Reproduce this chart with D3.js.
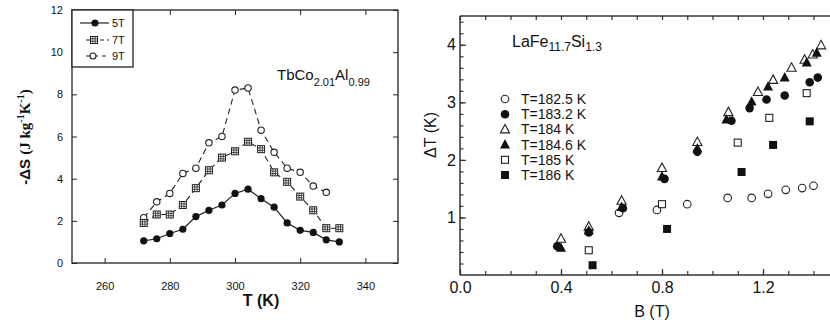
<!DOCTYPE html>
<html><head><meta charset="utf-8">
<script src="https://cdn.jsdelivr.net/npm/d3@7"></script>
<style>body{margin:0;background:#fff}svg{display:block}text{font-family:Arial,"Liberation Sans",sans-serif;fill:#111}</style>
</head><body>
<svg id="c" width="830" height="320"></svg>
<script>
// ---------- Left panel data ----------
const tempK = [272,276,280,284,288,292,296,300,304,308,312,316,320,324,328,332];
const dS5T = [1.05,1.15,1.4,1.6,2.2,2.5,2.75,3.3,3.5,3.05,2.65,1.9,1.55,1.45,1.1,1.0];
const dS7T = [1.9,2.3,2.3,2.75,3.55,4.4,5.0,5.3,5.75,5.4,4.3,3.85,3.15,2.5,1.65,1.65];
const dS9T = [2.15,2.9,3.3,4.25,4.5,5.7,6.0,8.2,8.3,6.3,5.25,4.5,4.3,3.65,3.35];
const leftNames = ["5T","7T","9T"];
const leftXTicks = [260,280,300,320,340];
const leftYTicks = [0,2,4,6,8,10,12];

// ---------- Right panel data ----------
const rightNames = ["T=182.5 K","T=183.2 K","T=184 K","T=184.6 K","T=185 K","T=186 K"];
const B1825 = [0.63,0.78,0.90,1.06,1.155,1.22,1.29,1.355,1.40];
const dT1825 = [1.08,1.13,1.23,1.34,1.34,1.41,1.48,1.51,1.55];
const B1832 = [0.385,0.51,0.645,0.81,0.94,1.075,1.147,1.214,1.286,1.385,1.417];
const dT1832 = [0.50,0.74,1.16,1.67,2.14,2.68,2.90,3.05,3.12,3.35,3.43];
const B184 = [0.40,0.51,0.64,0.80,0.94,1.063,1.18,1.24,1.313,1.365,1.397,1.43];
const dT184 = [0.63,0.84,1.29,1.86,2.31,2.83,3.18,3.39,3.60,3.74,3.83,3.99];
const B1846 = [0.40,0.51,0.64,0.80,0.94,1.055,1.155,1.22,1.286,1.373,1.413];
const dT1846 = [0.47,0.77,1.18,1.71,2.20,2.70,3.01,3.27,3.43,3.69,3.86];
const B185 = [0.51,0.80,1.10,1.225,1.373];
const dT185 = [0.43,1.23,2.30,2.73,3.16];
const B186 = [0.525,0.82,1.115,1.24,1.385];
const dT186 = [0.17,0.80,1.79,2.26,2.67];
const rightXLabels = [0.0,0.4,0.8,1.2];
const rightXMinor = [0,0.1,0.2,0.3,0.4,0.5,0.6,0.7,0.8,0.9,1.0,1.1,1.2,1.3,1.4,1.5];
const rightYLabels = [1,2,3,4];
const rightYMinor = [0.2,0.4,0.6,0.8,1,1.2,1.4,1.6,1.8,2,2.2,2.4,2.6,2.8,3,3.2,3.4,3.6,3.8,4,4.2,4.4];

const svg = d3.select("#c");

// ================= LEFT PANEL =================
const lx = d3.scaleLinear([250,350],[72,398]);
const ly = d3.scaleLinear([0,12],[263,10]);
const L = svg.append("g");
L.append("rect").attr("x",lx(250)).attr("y",ly(12)).attr("width",lx(350)-lx(250)).attr("height",ly(0)-ly(12))
  .attr("fill","none").attr("stroke","#222").attr("stroke-width",1.3);

const lxa = L.append("g").attr("transform",`translate(0,${ly(0)})`)
  .call(d3.axisBottom(lx).tickValues(leftXTicks).tickSize(-5).tickPadding(19).tickFormat(d3.format("d")));
const lxt = L.append("g").attr("transform",`translate(0,${ly(12)})`)
  .call(d3.axisTop(lx).tickValues(leftXTicks).tickSize(-5).tickFormat(""));
const lya = L.append("g").attr("transform",`translate(${lx(250)},0)`)
  .call(d3.axisLeft(ly).tickValues(leftYTicks).tickSize(-5).tickPadding(9).tickFormat(d3.format("d")));
const lyr = L.append("g").attr("transform",`translate(${lx(350)},0)`)
  .call(d3.axisRight(ly).tickValues(leftYTicks).tickSize(-5).tickFormat(""));
[lxa,lxt,lya,lyr].forEach(g=>{g.select(".domain").remove();g.selectAll("line").attr("stroke","#222");
  g.selectAll("text").attr("font-size",11).attr("fill","#222");});

const line = d3.line().x(d=>lx(d[0])).y(d=>ly(d[1]));
const s5 = tempK.map((t,i)=>[t,dS5T[i]]);
const s7 = tempK.map((t,i)=>[t,dS7T[i]]);
const s9 = dS9T.map((v,i)=>[tempK[i],v]);
L.append("path").attr("d",line(s5)).attr("fill","none").attr("stroke","#222").attr("stroke-width",1.2);
L.append("path").attr("d",line(s7)).attr("fill","none").attr("stroke","#222").attr("stroke-width",1.1).attr("stroke-dasharray","6,4");
L.append("path").attr("d",line(s9)).attr("fill","none").attr("stroke","#222").attr("stroke-width",1.1).attr("stroke-dasharray","6,4");

function gridSquare(g,x,y){
  const h=3.5;
  g.append("rect").attr("x",x-h).attr("y",y-h).attr("width",2*h).attr("height",2*h).attr("fill","#fff").attr("stroke","#222").attr("stroke-width",1);
  [-1.2,1.2].forEach(o=>{
    g.append("line").attr("x1",x+o).attr("x2",x+o).attr("y1",y-h).attr("y2",y+h).attr("stroke","#222").attr("stroke-width",0.8);
    g.append("line").attr("y1",y+o).attr("y2",y+o).attr("x1",x-h).attr("x2",x+h).attr("stroke","#222").attr("stroke-width",0.8);
  });
}
s9.forEach(d=>L.append("circle").attr("cx",lx(d[0])).attr("cy",ly(d[1])).attr("r",3.2).attr("fill","#fff").attr("stroke","#222").attr("stroke-width",1.1));
s7.forEach(d=>gridSquare(L,lx(d[0]),ly(d[1])));
s5.forEach(d=>L.append("circle").attr("cx",lx(d[0])).attr("cy",ly(d[1])).attr("r",3.6).attr("fill","#111"));

// legend
L.append("rect").attr("x",72).attr("y",10).attr("width",61).attr("height",57).attr("fill","#fff").attr("stroke","#222").attr("stroke-width",1.3);
const legY=[23,40,56];
L.append("line").attr("x1",80).attr("x2",109).attr("y1",legY[0]).attr("y2",legY[0]).attr("stroke","#222").attr("stroke-width",1.2);
L.append("circle").attr("cx",95).attr("cy",legY[0]).attr("r",3.6).attr("fill","#111");
L.append("line").attr("x1",86).attr("x2",109).attr("y1",legY[1]).attr("y2",legY[1]).attr("stroke","#222").attr("stroke-width",1.1).attr("stroke-dasharray","4,3");
gridSquare(L,94,legY[1]);
L.append("line").attr("x1",86).attr("x2",109).attr("y1",legY[2]).attr("y2",legY[2]).attr("stroke","#222").attr("stroke-width",1.1).attr("stroke-dasharray","4,4");
L.append("circle").attr("cx",93).attr("cy",legY[2]).attr("r",3).attr("fill","#fff").attr("stroke","#222").attr("stroke-width",1.1);
leftNames.forEach((n,i)=>L.append("text").attr("x",112).attr("y",legY[i]+4).attr("font-size",11).text(n));

// title
const lt = L.append("text").attr("x",277).attr("y",80).attr("font-size",15);
lt.append("tspan").text("TbCo");
lt.append("tspan").attr("font-size",11).attr("dy",6).text("2.01");
lt.append("tspan").attr("dy",-6).text("Al");
lt.append("tspan").attr("font-size",11).attr("dy",6).text("0.99");

// axis labels
L.append("text").attr("x",261).attr("y",306).attr("text-anchor","middle").attr("font-size",16).attr("font-weight","bold").text("T (K)");
const yl = L.append("text").attr("transform","translate(30,137) rotate(-90)").attr("text-anchor","middle").attr("font-size",15).attr("font-weight","bold");
yl.append("tspan").text("-ΔS ");
yl.append("tspan").attr("font-family","'Liberation Serif','DejaVu Serif',serif").text("(J kg");
yl.append("tspan").attr("font-family","'Liberation Serif',serif").attr("font-size",10).attr("dy",-6).text("-1");
yl.append("tspan").attr("font-family","'Liberation Serif',serif").attr("dy",6).text("K");
yl.append("tspan").attr("font-family","'Liberation Serif',serif").attr("font-size",10).attr("dy",-6).text("-1");
yl.append("tspan").attr("font-family","'Liberation Serif',serif").attr("dy",6).text(")");

// ================= RIGHT PANEL =================
const rx = d3.scaleLinear([0,1.2],[460,763]);
const ry = d3.scaleLinear([0,4.5],[275,16]);
const R = svg.append("g");
const axCol="#333";
R.append("line").attr("x1",rx(0)).attr("x2",830).attr("y1",ry(0)).attr("y2",ry(0)).attr("stroke",axCol).attr("stroke-width",1.5);
R.append("line").attr("x1",rx(0)).attr("x2",830).attr("y1",ry(4.5)).attr("y2",ry(4.5)).attr("stroke",axCol).attr("stroke-width",1.5);
R.append("line").attr("x1",rx(0)).attr("x2",rx(0)).attr("y1",ry(0)).attr("y2",ry(4.5)).attr("stroke",axCol).attr("stroke-width",1.5);

const g1 = R.append("g").attr("transform",`translate(0,${ry(0)})`)
  .call(d3.axisBottom(rx).tickValues(rightXMinor).tickSize(-4).tickFormat(""));
const g2 = R.append("g").attr("transform",`translate(0,${ry(0)})`)
  .call(d3.axisBottom(rx).tickValues(rightXLabels).tickSize(-6).tickPadding(7).tickFormat(d3.format(".1f")));
const g3 = R.append("g").attr("transform",`translate(0,${ry(4.5)})`)
  .call(d3.axisTop(rx).tickValues(rightXMinor).tickSize(-4).tickFormat(""));
const g4 = R.append("g").attr("transform",`translate(${rx(0)},0)`)
  .call(d3.axisLeft(ry).tickValues(rightYMinor).tickSize(-3.5).tickFormat(""));
const g5 = R.append("g").attr("transform",`translate(${rx(0)},0)`)
  .call(d3.axisLeft(ry).tickValues(rightYLabels).tickSize(-6).tickPadding(4).tickFormat(d3.format("d")));
[g1,g2,g3,g4,g5].forEach(g=>{g.select(".domain").remove();g.selectAll("line").attr("stroke",axCol).attr("stroke-width",1.2);
  g.selectAll("text").attr("font-size",16).attr("fill","#222");});

const sym = {
  circleOpen:(g,x,y)=>g.append("circle").attr("cx",x).attr("cy",y).attr("r",3.8).attr("fill","#fff").attr("stroke","#222").attr("stroke-width",1.1),
  circleFill:(g,x,y)=>g.append("circle").attr("cx",x).attr("cy",y).attr("r",4.3).attr("fill","#111"),
  triOpen:(g,x,y)=>g.append("path").attr("d",`M${x},${y-5}L${x+4.6},${y+3.5}L${x-4.6},${y+3.5}Z`).attr("fill","#fff").attr("stroke","#222").attr("stroke-width",1.1),
  triFill:(g,x,y)=>g.append("path").attr("d",`M${x},${y-5.5}L${x+5},${y+3.8}L${x-5},${y+3.8}Z`).attr("fill","#111"),
  sqOpen:(g,x,y)=>g.append("rect").attr("x",x-3.5).attr("y",y-3.5).attr("width",7).attr("height",7).attr("fill","#fff").attr("stroke","#222").attr("stroke-width",1.1),
  sqFill:(g,x,y)=>g.append("rect").attr("x",x-4).attr("y",y-4).attr("width",8).attr("height",8).attr("fill","#111")
};
const rSeries = [
  {B:B1825,v:dT1825,s:"circleOpen"},
  {B:B185,v:dT185,s:"sqOpen"},
  {B:B186,v:dT186,s:"sqFill"},
  {B:B184,v:dT184,s:"triOpen"},
  {B:B1832,v:dT1832,s:"circleFill"},
  {B:B1846,v:dT1846,s:"triFill"}
];
rSeries.forEach(S=>S.B.forEach((b,i)=>sym[S.s](R,rx(b),ry(S.v[i]))));

// legend
const legSyms = ["circleOpen","circleFill","triOpen","triFill","sqOpen","sqFill"];
rightNames.forEach((n,i)=>{
  const y = 99 + i*15.2;
  sym[legSyms[i]](R,505,y);
  R.append("text").attr("x",521).attr("y",y+5).attr("font-size",14).text(n);
});

// title
const rt = R.append("text").attr("x",512).attr("y",47).attr("font-size",16);
rt.append("tspan").text("LaFe");
rt.append("tspan").attr("font-size",12).attr("dy",4).text("11.7");
rt.append("tspan").attr("dy",-4).text("Si");
rt.append("tspan").attr("font-size",12).attr("dy",4).text("1.3");

R.append("text").attr("x",652).attr("y",317).attr("text-anchor","middle").attr("font-size",16).text("B (T)");
R.append("text").attr("transform","translate(436,135) rotate(-90)").attr("text-anchor","middle").attr("font-size",16).text("ΔT (K)");
</script>
</body></html>
